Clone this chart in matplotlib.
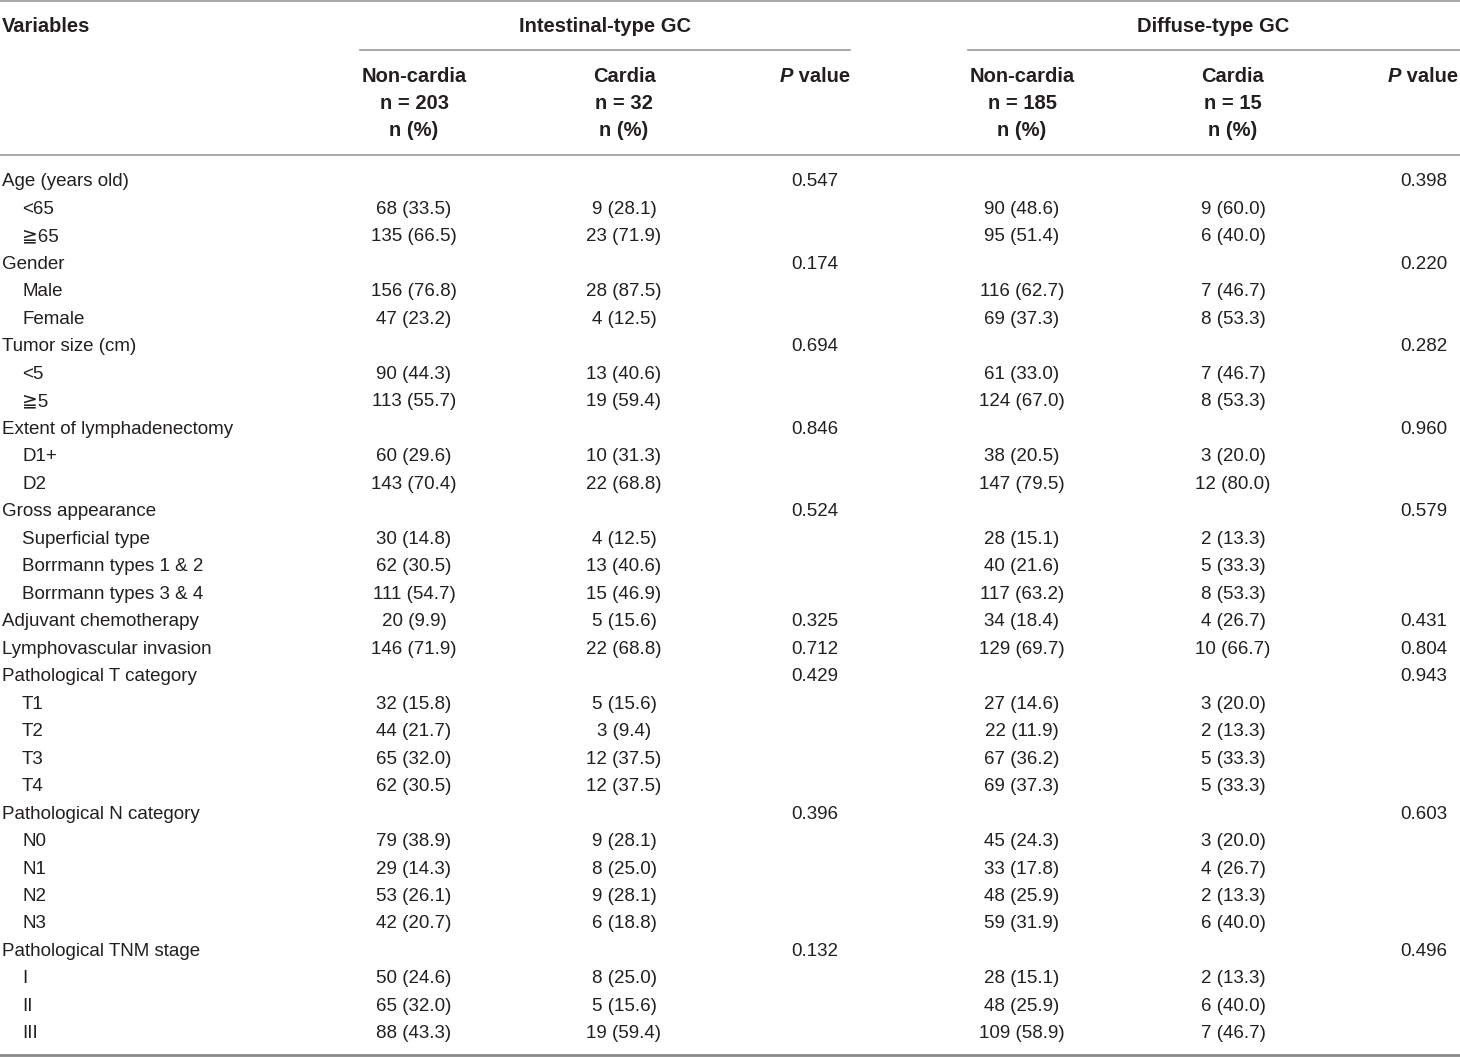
import matplotlib
matplotlib.use("Agg")
import matplotlib.pyplot as plt
from matplotlib import font_manager

# table content
labels = ["Age (years old)", "<65", "≧65", "Gender", "Male", "Female",
          "Tumor size (cm)", "<5", "≧5", "Extent of lymphadenectomy", "D1+", "D2",
          "Gross appearance", "Superficial type", "Borrmann types 1 & 2",
          "Borrmann types 3 & 4", "Adjuvant chemotherapy", "Lymphovascular invasion",
          "Pathological T category", "T1", "T2", "T3", "T4",
          "Pathological N category", "N0", "N1", "N2", "N3",
          "Pathological TNM stage", "I", "II", "III"]
indented = [0, 1, 1, 0, 1, 1, 0, 1, 1, 0, 1, 1, 0, 1, 1, 1, 0, 0,
            0, 1, 1, 1, 1, 0, 1, 1, 1, 1, 0, 1, 1, 1]

int_noncardia = ["", "68 (33.5)", "135 (66.5)", "", "156 (76.8)", "47 (23.2)", "",
                 "90 (44.3)", "113 (55.7)", "", "60 (29.6)", "143 (70.4)", "",
                 "30 (14.8)", "62 (30.5)", "111 (54.7)", "20 (9.9)", "146 (71.9)", "",
                 "32 (15.8)", "44 (21.7)", "65 (32.0)", "62 (30.5)", "",
                 "79 (38.9)", "29 (14.3)", "53 (26.1)", "42 (20.7)", "",
                 "50 (24.6)", "65 (32.0)", "88 (43.3)"]
int_cardia = ["", "9 (28.1)", "23 (71.9)", "", "28 (87.5)", "4 (12.5)", "",
              "13 (40.6)", "19 (59.4)", "", "10 (31.3)", "22 (68.8)", "",
              "4 (12.5)", "13 (40.6)", "15 (46.9)", "5 (15.6)", "22 (68.8)", "",
              "5 (15.6)", "3 (9.4)", "12 (37.5)", "12 (37.5)", "",
              "9 (28.1)", "8 (25.0)", "9 (28.1)", "6 (18.8)", "",
              "8 (25.0)", "5 (15.6)", "19 (59.4)"]
int_p = ["0.547", "", "", "0.174", "", "", "0.694", "", "", "0.846", "", "",
         "0.524", "", "", "", "0.325", "0.712", "0.429", "", "", "", "",
         "0.396", "", "", "", "", "0.132", "", "", ""]

dif_noncardia = ["", "90 (48.6)", "95 (51.4)", "", "116 (62.7)", "69 (37.3)", "",
                 "61 (33.0)", "124 (67.0)", "", "38 (20.5)", "147 (79.5)", "",
                 "28 (15.1)", "40 (21.6)", "117 (63.2)", "34 (18.4)", "129 (69.7)", "",
                 "27 (14.6)", "22 (11.9)", "67 (36.2)", "69 (37.3)", "",
                 "45 (24.3)", "33 (17.8)", "48 (25.9)", "59 (31.9)", "",
                 "28 (15.1)", "48 (25.9)", "109 (58.9)"]
dif_cardia = ["", "9 (60.0)", "6 (40.0)", "", "7 (46.7)", "8 (53.3)", "",
              "7 (46.7)", "8 (53.3)", "", "3 (20.0)", "12 (80.0)", "",
              "2 (13.3)", "5 (33.3)", "8 (53.3)", "4 (26.7)", "10 (66.7)", "",
              "3 (20.0)", "2 (13.3)", "5 (33.3)", "5 (33.3)", "",
              "3 (20.0)", "4 (26.7)", "2 (13.3)", "6 (40.0)", "",
              "2 (13.3)", "6 (40.0)", "7 (46.7)"]
dif_p = ["0.398", "", "", "0.220", "", "", "0.282", "", "", "0.960", "", "",
         "0.579", "", "", "", "0.431", "0.804", "0.943", "", "", "", "",
         "0.603", "", "", "", "", "0.496", "", "", ""]

groups = ["Intestinal-type GC", "Diffuse-type GC"]
sub_heads = [(["Non-cardia", "n = 203", "n (%)"], ["Cardia", "n = 32", "n (%)"]),
             (["Non-cardia", "n = 185", "n (%)"], ["Cardia", "n = 15", "n (%)"])]

names = {f.name for f in font_manager.fontManager.ttflist}
body_font = ["Liberation Sans", "DejaVu Sans"]
head_font = ["Liberation Sans Narrow", "DejaVu Sans"] if "Liberation Sans Narrow" in names \
    else ["Liberation Sans", "DejaVu Sans"]

txt_col = "#231f20"
line_col = "#9a9a9a"
fs = 13.5
hfs = 14.5

fig = plt.figure(figsize=(14.6, 10.57), dpi=100)
ax = fig.add_axes([0, 0, 1, 1])
ax.set_xlim(0, 1460)
ax.set_ylim(1057, 0)
ax.axis("off")

# rules
ax.plot([0, 1460], [1, 1], color=line_col, lw=1.2)
ax.plot([360, 850], [50, 50], color=line_col, lw=1.2)
ax.plot([968, 1460], [50, 50], color=line_col, lw=1.2)
ax.plot([0, 1460], [155, 155], color=line_col, lw=1.2)
ax.plot([0, 1460], [1055, 1055], color="#888888", lw=2.0)


def head(x, y, s, ha="center", style="normal"):
    return ax.text(x, y, s, fontsize=hfs, fontweight="bold", family=head_font,
                   style=style, color=txt_col, ha=ha, va="center")


# header
head(2, 27, "Variables", ha="left")
group_cx = [605, 1213]
col_x = [(414, 624, 815), (1022, 1233, 1424)]
p_right = [850, 1458]
renderer = fig.canvas.get_renderer()
for g, gx, cols, subs, pr in zip(groups, group_cx, col_x, sub_heads, p_right):
    head(gx, 27, g)
    for cx, lines in zip(cols[:2], subs):
        for k, s in enumerate(lines):
            head(cx, 76 + 27.5 * k, s)
    t = head(pr, 76, " value", ha="right")
    bb = t.get_window_extent(renderer)
    left = ax.transData.inverted().transform((bb.x0, bb.y0))[0]
    head(left, 76, "P", ha="right", style="italic")

# body rows
y0, dy = 182, 27.48
columns = [(int_noncardia, 414), (int_cardia, 624), (int_p, 815),
           (dif_noncardia, 1022), (dif_cardia, 1233), (dif_p, 1424)]
for i, lab in enumerate(labels):
    y = y0 + i * dy
    ax.text(2 + 20 * indented[i], y, lab, fontsize=fs, family=body_font,
            color=txt_col, ha="left", va="center")
    for vals, cx in columns:
        if vals[i]:
            ax.text(cx, y, vals[i], fontsize=fs, family=body_font,
                    color=txt_col, ha="center", va="center")

fig.savefig("out.png", dpi=100)
